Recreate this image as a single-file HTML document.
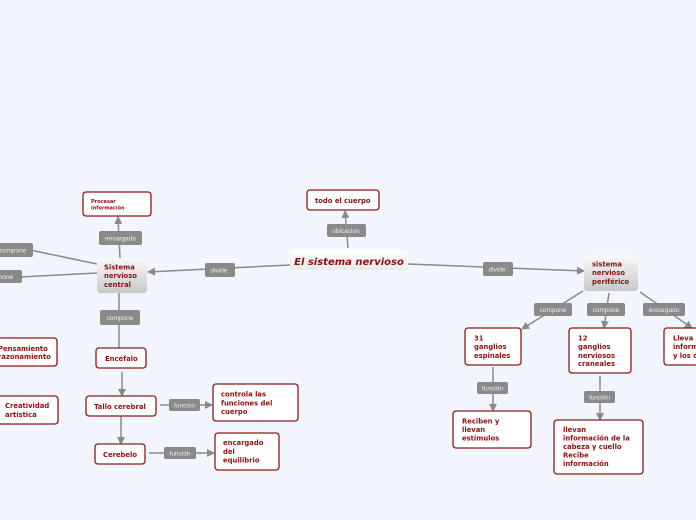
<!DOCTYPE html>
<html><head><meta charset="utf-8"><style>
html,body{margin:0;padding:0;background:#f3f5fe;width:696px;height:520px;overflow:hidden}
svg{display:block}
text{font-family:"Liberation Sans",sans-serif}
.b{fill:#fff;stroke:#8b1a1a;stroke-width:1.3}
.t{fill:#8b1010;font-weight:bold;font-size:6.8px;font-family:"DejaVu Sans",sans-serif}
.l{fill:#8a8a8a}
.lt{fill:#eee;font-size:6.5px;text-anchor:middle}
.ln{stroke:#8a8a8a;stroke-width:1.5;fill:none}
</style></head><body>
<svg width="696" height="520" viewBox="0 0 696 520">
<defs>
<marker id="a" markerWidth="8" markerHeight="8" refX="7" refY="4" orient="auto" markerUnits="userSpaceOnUse"><path d="M0,0 L8,4 L0,8 z" fill="#8a8a8a"/></marker>
<linearGradient id="g" x1="0" y1="0" x2="0" y2="1"><stop offset="0" stop-color="#fafafa"/><stop offset="1" stop-color="#c8c8c8"/></linearGradient>
<linearGradient id="g2" x1="0" y1="0" x2="0" y2="1"><stop offset="0" stop-color="#fff"/><stop offset="1" stop-color="#ebebeb"/></linearGradient>
</defs>
<path class="ln" d="M290,265 L148,272" marker-end="url(#a)"/>
<path class="ln" d="M348,248 L345,211" marker-end="url(#a)"/>
<path class="ln" d="M408,264 L584,271" marker-end="url(#a)"/>
<path class="ln" d="M120,258 L118,217" marker-end="url(#a)"/>
<path class="ln" d="M97,264 L30,250"/>
<path class="ln" d="M97,273 L20,277"/>
<path class="ln" d="M119,293 L119,348"/>
<path class="ln" d="M122,372 L122,396" marker-end="url(#a)"/>
<path class="ln" d="M121,416 L121,444" marker-end="url(#a)"/>
<path class="ln" d="M160,405 L212,405" marker-end="url(#a)"/>
<path class="ln" d="M149,453 L214,453" marker-end="url(#a)"/>
<path class="ln" d="M583,291 L522,329" marker-end="url(#a)"/>
<path class="ln" d="M609,293 L604,328" marker-end="url(#a)"/>
<path class="ln" d="M640,292 L692,328" marker-end="url(#a)"/>
<path class="ln" d="M493,367 L493,411" marker-end="url(#a)"/>
<path class="ln" d="M600,376 L600,420" marker-end="url(#a)"/>
<rect class="l" x="99" y="231" width="43" height="14" rx="2"/><text class="lt" x="120.5" y="240.5">encargada</text>
<rect class="l" x="-5" y="243" width="38" height="14" rx="2"/><text class="lt" x="13" y="252.5">compone</text>
<rect class="l" x="-5" y="270" width="27" height="13" rx="2"/><text class="lt" x="6" y="279">pone</text>
<rect class="l" x="100" y="310" width="40" height="15" rx="2"/><text class="lt" x="120" y="320">compone</text>
<rect class="l" x="205" y="263" width="30" height="14" rx="2"/><text class="lt" x="219" y="272.5">divide</text>
<rect class="l" x="327" y="224" width="39" height="13" rx="2"/><text class="lt" x="346" y="233">ubicación</text>
<rect class="l" x="483" y="262" width="30" height="14" rx="2"/><text class="lt" x="497" y="271.5">divide</text>
<rect class="l" x="169" y="399" width="31" height="12" rx="2"/><text class="lt" x="184.5" y="407.5">función</text>
<rect class="l" x="164" y="447" width="32" height="12" rx="2"/><text class="lt" x="180" y="455.5">función</text>
<rect class="l" x="534" y="303" width="38" height="13" rx="2"/><text class="lt" x="553" y="312">compone</text>
<rect class="l" x="587" y="303" width="38" height="13" rx="2"/><text class="lt" x="606" y="312">compone</text>
<rect class="l" x="643" y="303" width="42" height="13" rx="2"/><text class="lt" x="664" y="312">encargado</text>
<rect class="l" x="477" y="382" width="31" height="12" rx="2"/><text class="lt" x="492.5" y="390.5">función</text>
<rect class="l" x="584" y="391" width="31" height="12" rx="2"/><text class="lt" x="599.5" y="399.5">función</text>
<rect x="290" y="250" width="118" height="20" rx="3" fill="url(#g2)"/>
<text x="349" y="265" text-anchor="middle" style="font-size:10px;font-weight:bold;font-style:italic;fill:#8b1010;font-family:'DejaVu Sans',sans-serif">El sistema nervioso</text>
<rect x="97" y="258" width="50" height="35" rx="3" fill="url(#g)"/>
<text class="t" x="104" y="269.5">Sistema</text><text class="t" x="104" y="278">nervioso</text><text class="t" x="104" y="287">central</text>
<rect x="584" y="255" width="54" height="36" rx="3" fill="url(#g)"/>
<text class="t" x="592" y="266.5">sistema</text><text class="t" x="592" y="275">nervioso</text><text class="t" x="592" y="284">periférico</text>
<rect class="b" x="83" y="192" width="68" height="24" rx="3"/>
<text class="t" x="91" y="203" style="font-size:5px">Procesar</text><text class="t" x="91" y="209.5" style="font-size:5px">información</text>
<rect class="b" x="307" y="190" width="72" height="20" rx="3"/><text class="t" x="315" y="203">todo el cuerpo</text>
<rect class="b" x="-10" y="338" width="67" height="28" rx="3"/><text class="t" x="-2" y="351">Pensamiento</text><text class="t" x="-2" y="359">razonamiento</text>
<rect class="b" x="-10" y="396" width="68" height="28" rx="3"/><text class="t" x="5" y="408">Creatividad</text><text class="t" x="5" y="417">artística</text>
<rect class="b" x="96" y="348" width="50" height="20" rx="3"/><text class="t" x="105" y="361">Encéfalo</text>
<rect class="b" x="86" y="396" width="70" height="20" rx="3"/><text class="t" x="94" y="409">Tallo cerebral</text>
<rect class="b" x="95" y="444" width="50" height="20" rx="3"/><text class="t" x="103" y="457">Cerebelo</text>
<rect class="b" x="213" y="384" width="85" height="37" rx="3"/><text class="t" x="221" y="396.5">controla las</text><text class="t" x="221" y="405.5">funciones del</text><text class="t" x="221" y="414">cuerpo</text>
<rect class="b" x="215" y="433" width="64" height="37" rx="3"/><text class="t" x="223" y="445">encargado</text><text class="t" x="223" y="454">del</text><text class="t" x="223" y="462.5">equilibrio</text>
<rect class="b" x="465" y="328" width="56" height="37" rx="3"/><text class="t" x="474" y="340.5">31</text><text class="t" x="474" y="349">ganglios</text><text class="t" x="474" y="358">espinales</text>
<rect class="b" x="569" y="328" width="62" height="45" rx="3"/><text class="t" x="578" y="340.5">12</text><text class="t" x="578" y="349">ganglios</text><text class="t" x="578" y="358">nerviosos</text><text class="t" x="578" y="366">craneales</text>
<rect class="b" x="664" y="328" width="40" height="37" rx="3"/><text class="t" x="673" y="340.5">Lleva</text><text class="t" x="673" y="349">información</text><text class="t" x="673" y="358">y los órganos</text>
<rect class="b" x="453" y="411" width="78" height="37" rx="3"/><text class="t" x="462" y="423.5">Reciben y</text><text class="t" x="462" y="432">llevan</text><text class="t" x="462" y="440.5">estímulos</text>
<rect class="b" x="554" y="420" width="89" height="54" rx="3"/><text class="t" x="563" y="432">llevan</text><text class="t" x="563" y="440.5">información de la</text><text class="t" x="563" y="449">cabeza y cuello</text><text class="t" x="563" y="457.5">Recibe</text><text class="t" x="563" y="466">información</text>
</svg>
</body></html>
